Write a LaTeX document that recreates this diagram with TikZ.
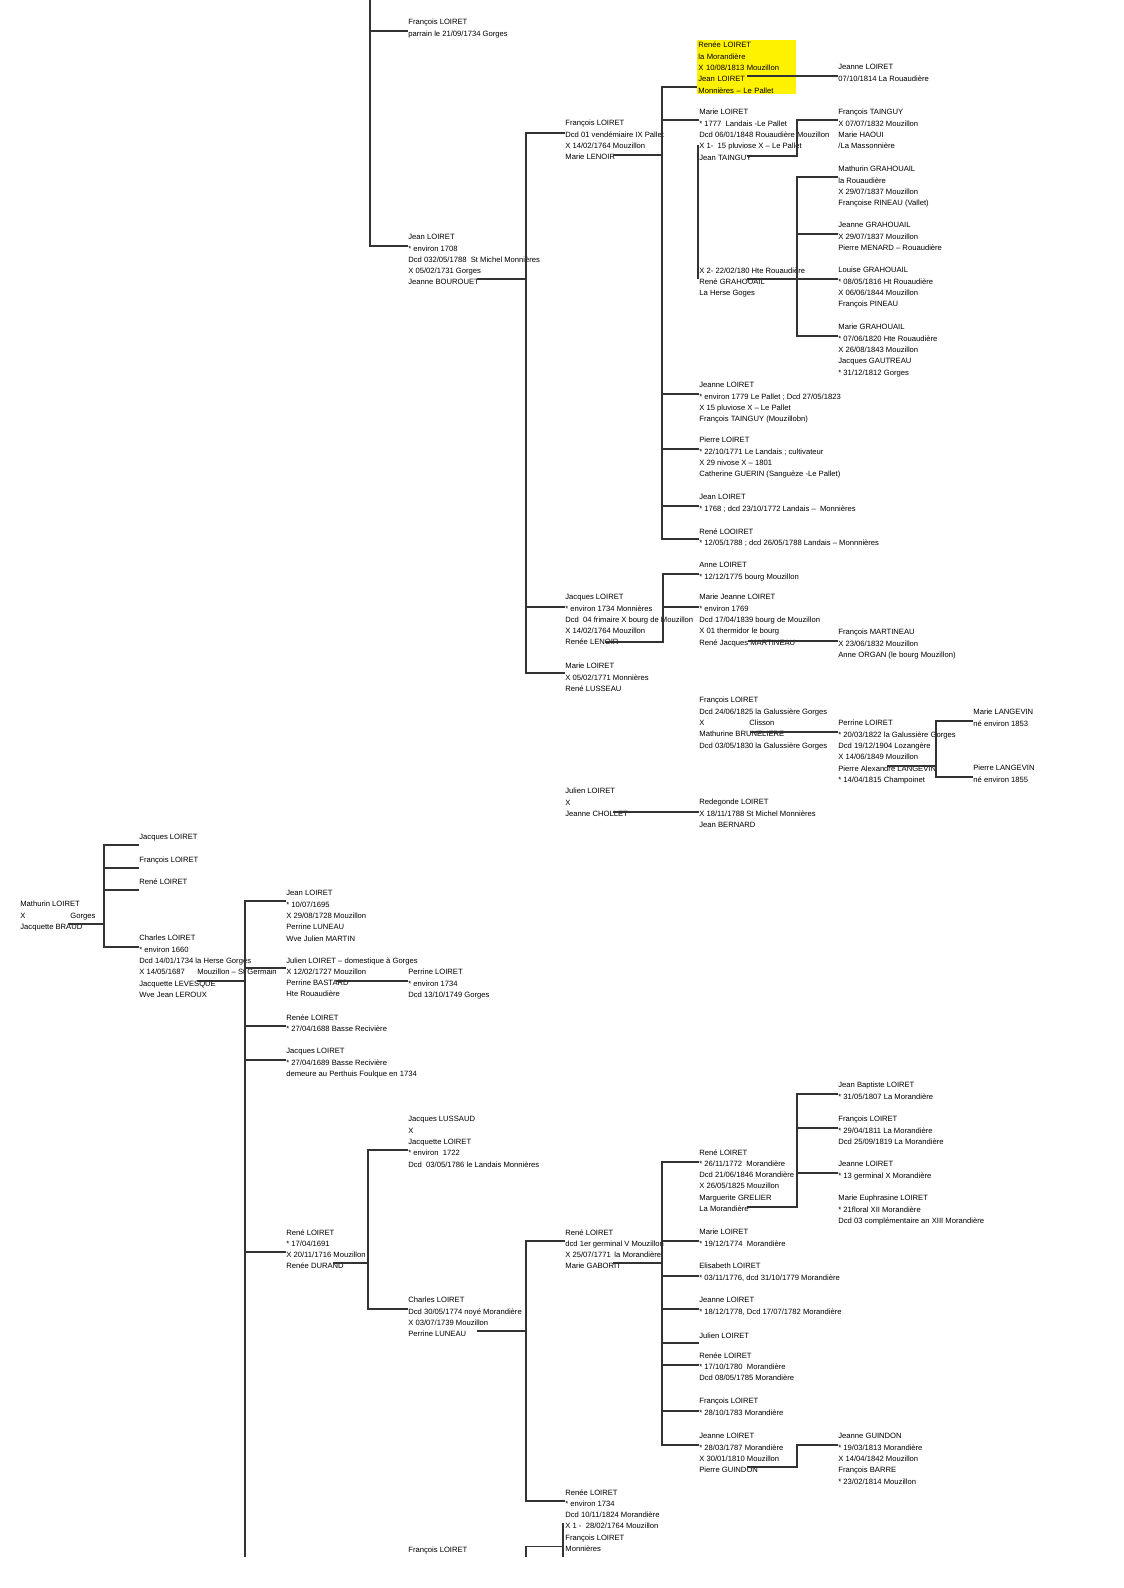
\documentclass[tikz,border=0pt]{standalone}
\usepackage{fontspec}
\setmainfont{Liberation Sans}
\tikzset{
  person/.style={anchor=north west, inner sep=0pt, align=left, font=\fontsize{4.05}{6}\selectfont, execute at begin node={\rule{0pt}{3.4pt}}},
  link/.style={draw=black!80, line width=0.55pt},
}
\begin{document}
\begin{tikzpicture}[x=0.53pt,y=-0.53pt]
\useasboundingbox (0,0) rectangle (1123,1588);
% upper branch
\node[person] (fl1) at (408,19) {François LOIRET\\parrain le 21/09/1734 Gorges};
\node[person] (jean1) at (408,234) {Jean LOIRET\\{*} environ 1708\\Dcd 032/05/1788 ~St Michel Monnières\\X 05/02/1731 Gorges\\Jeanne BOUROUET};
\node[person] (fl2) at (565,120) {François LOIRET\\Dcd 01 vendémiaire IX Pallet\\X 14/02/1764 Mouzillon\\Marie LENOIR};
\node[person] (jq2) at (565,594) {Jacques LOIRET\\{*} environ 1734 Monnières\\Dcd ~04 frimaire X bourg de Mouzillon\\X 14/02/1764 Mouzillon\\Renée LENOIR};
\node[person] (ml2) at (565,663) {Marie LOIRET\\X 05/02/1771 Monnières\\René LUSSEAU};
\node[person] (jul2) at (565,788) {Julien LOIRET\\X\\Jeanne CHOLLET};
\node[person, fill=yellow, inner xsep=0.53pt, inner ysep=0.53pt, text width=51.4pt] (renee3) at (697,40) {Renée LOIRET\\la Morandière\\X 10/08/1813 Mouzillon\\Jean LOIRET\\Monnières – Le Pallet};
\node[person] (ml3) at (699,109) {Marie LOIRET\\{*} 1777 ~Landais -Le Pallet\\Dcd 06/01/1848 Rouaudière Mouzillon\\X 1- ~15 pluviose X – Le Pallet\\Jean TAINGUY};
\node[person] (ml3b) at (699,267) {X 2- 22/02/180 Hte Rouaudière\\René GRAHOUAIL\\La Herse Goges};
\node[person] (jl3) at (699,382) {Jeanne LOIRET\\{*} environ 1779 Le Pallet ; Dcd 27/05/1823\\X 15 pluviose X – Le Pallet\\François TAINGUY (Mouzillobn)};
\node[person] (pl3) at (699,437) {Pierre LOIRET\\{*} 22/10/1771 Le Landais ; cultivateur\\X 29 nivose X – 1801\\Catherine GUERIN (Sanguèze -Le Pallet)};
\node[person] (jn3) at (699,494) {Jean LOIRET\\{*} 1768 ; dcd 23/10/1772 Landais – ~Monnières};
\node[person] (rl3) at (699,528) {René LOOIRET\\{*} 12/05/1788 ; dcd 26/05/1788 Landais – Monnnières};
\node[person] (al3) at (699,562) {Anne LOIRET\\{*} 12/12/1775 bourg Mouzillon};
\node[person] (mjl3) at (699,594) {Marie Jeanne LOIRET\\{*} environ 1769\\Dcd 17/04/1839 bourg de Mouzillon\\X 01 thermidor le bourg\\René Jacques MARTINEAU};
\node[person] (fl3b) at (699,697) {François LOIRET\\Dcd 24/06/1825 la Galussière Gorges\\\makebox[26.5pt][l]{X}Clisson\\Mathurine BRUNELIERE\\Dcd 03/05/1830 la Galussière Gorges};
\node[person] (red3) at (699,799) {Redegonde LOIRET\\X 18/11/1788 St Michel Monnières\\Jean BERNARD};
\node[person] (jl4) at (838,64) {Jeanne LOIRET\\07/10/1814 La Rouaudière};
\node[person] (ft4) at (838,109) {François TAINGUY\\X 07/07/1832 Mouzillon\\Marie HAOUI\\/La Massonnière};
\node[person] (mg4) at (838,166) {Mathurin GRAHOUAIL\\la Rouaudière\\X 29/07/1837 Mouzillon\\Françoise RINEAU (Vallet)};
\node[person] (jg4) at (838,222) {Jeanne GRAHOUAIL\\X 29/07/1837 Mouzillon\\Pierre MENARD – Rouaudière};
\node[person] (lg4) at (838,267) {Louise GRAHOUAIL\\{*} 08/05/1816 Ht Rouaudière\\X 06/06/1844 Mouzillon\\François PINEAU};
\node[person] (mag4) at (838,324) {Marie GRAHOUAIL\\{*} 07/06/1820 Hte Rouaudière\\X 26/08/1843 Mouzillon\\Jacques GAUTREAU\\{*} 31/12/1812 Gorges};
\node[person] (fm4) at (838,629) {François MARTINEAU\\X 23/06/1832 Mouzillon\\Anne ORGAN (le bourg Mouzillon)};
\node[person] (pl4) at (838,720) {Perrine LOIRET\\{*} 20/03/1822 la Galussière Gorges\\Dcd 19/12/1904 Lozangère\\X 14/06/1849 Mouzillon\\Pierre Alexandre LANGEVIN\\{*} 14/04/1815 Champoinet};
\node[person] (mlg5) at (973,709) {Marie LANGEVIN\\né environ 1853};
\node[person] (plg5) at (973,765) {Pierre LANGEVIN\\né environ 1855};
% lower branch
\node[person] (mat0) at (20,901) {Mathurin LOIRET\\\makebox[26.5pt][l]{X}Gorges\\Jacquette BRAUD};
\node[person] (jq1) at (139,833) {Jacques LOIRET};
\node[person] (fr1) at (139,856) {François LOIRET};
\node[person] (re1) at (139,878) {René LOIRET};
\node[person] (ch1) at (139,935) {Charles LOIRET\\{*} environ 1660\\Dcd 14/01/1734 la Herse Gorges\\\makebox[30.7pt][l]{X 14/05/1687}Mouzillon – St Germain\\Jacquette LEVESQUE\\Wve Jean LEROUX};
\node[person] (jn2) at (286,890) {Jean LOIRET\\{*} 10/07/1695\\X 29/08/1728 Mouzillon\\Perrine LUNEAU\\Wve Julien MARTIN};
\node[person] (ju2) at (286,957) {Julien LOIRET – domestique à Gorges\\X 12/02/1727 Mouzillon\\Perrine BASTARD\\Hte Rouaudière};
\node[person] (pe3) at (408,969) {Perrine LOIRET\\{*} environ 1734\\Dcd 13/10/1749 Gorges};
\node[person] (rn2) at (286,1014) {Renée LOIRET\\{*} 27/04/1688 Basse Recivière};
\node[person] (jq2b) at (286,1048) {Jacques LOIRET\\{*} 27/04/1689 Basse Recivière\\demeure au Perthuis Foulque en 1734};
\node[person] (rn2b) at (286,1229) {René LOIRET\\{*} 17/04/1691\\X 20/11/1716 Mouzillon\\Renée DURAND};
\node[person] (jl3c) at (408,1116) {Jacques LUSSAUD\\X\\Jacquette LOIRET\\{*} environ ~1722\\Dcd ~03/05/1786 le Landais Monnières};
\node[person] (ch3) at (408,1297) {Charles LOIRET\\Dcd 30/05/1774 noyé Morandière\\X 03/07/1739 Mouzillon\\Perrine LUNEAU};
\node[person] (rn3) at (565,1229) {René LOIRET\\dcd 1er germinal V Mouzillon\\\makebox[26pt][l]{X 25/07/1771}la Morandière\\Marie GABORIT};
\node[person] (rl3c) at (565,1489) {Renée LOIRET\\{*} environ 1734\\Dcd 10/11/1824 Morandière\\X 1 - ~28/02/1764 Mouzillon\\François LOIRET\\Monnières};
\node[person] (fl2c) at (408,1546) {François LOIRET};
\node[person] (rn4) at (699,1149) {René LOIRET\\{*} 26/11/1772 ~Morandière\\Dcd 21/06/1846 Morandière\\X 26/05/1825 Mouzillon\\Marguerite GRELIER\\La Morandière};
\node[person] (mr4) at (699,1229) {Marie LOIRET\\{*} 19/12/1774 ~Morandière};
\node[person] (el4) at (699,1263) {Elisabeth LOIRET\\{*} 03/11/1776, dcd 31/10/1779 Morandière};
\node[person] (je4) at (699,1297) {Jeanne LOIRET\\{*} 18/12/1778, Dcd 17/07/1782 Morandière};
\node[person] (ju4) at (699,1332) {Julien LOIRET};
\node[person] (re4) at (699,1352) {Renée LOIRET\\{*} 17/10/1780 ~Morandière\\Dcd 08/05/1785 Morandière};
\node[person] (fr4) at (699,1398) {François LOIRET\\{*} 28/10/1783 Morandière};
\node[person] (jn4) at (699,1433) {Jeanne LOIRET\\{*} 28/03/1787 Morandière\\X 30/01/1810 Mouzillon\\Pierre GUINDON};
\node[person] (jg5) at (838,1433) {Jeanne GUINDON\\{*} 19/03/1813 Morandière\\X 14/04/1842 Mouzillon\\François BARRE\\{*} 23/02/1814 Mouzillon};
\node[person] (jb5) at (838,1082) {Jean Baptiste LOIRET\\{*} 31/05/1807 La Morandière};
\node[person] (fr5) at (838,1116) {François LOIRET\\{*} 29/04/1811 La Morandière\\Dcd 25/09/1819 La Morandière};
\node[person] (jn5) at (838,1161) {Jeanne LOIRET\\{*} 13 germinal X Morandière};
\node[person] (me5) at (838,1195) {Marie Euphrasine LOIRET\\ {*} 21floral XII Morandière\\Dcd 03 complémentaire an XIII Morandière};
% connectors, upper branch
\coordinate (cut1) at (370,0);
\foreach \kid in {fl1,jean1}
  \draw[link] (cut1) |- ([shift={(0,12)}]\kid.north west);
\foreach \kid/\dx/\dy in {fl2/39/13,jq2/39/13,ml2/39/10}
  \draw[link] ([shift={(69,45)}]jean1.north west) -| ([shift={(-\dx,\dy)}]\kid.north west) -- ++(\dx,0);
\foreach \kid/\dx/\dy in {renee3/35/47,ml3/37/11,jl3/37/12,pl3/37/12,jn3/37/12,rl3/37/11}
  \draw[link] ([shift={(48,35)}]fl2.north west) -| ([shift={(-\dx,\dy)}]\kid.north west) -- ++(\dx,0);
\draw[link] ([shift={(50,36)}]renee3.north west) -- ([shift={(0,12)}]jl4.north west);
\draw[link] ([shift={(48,47)}]ml3.north west) -| ([shift={(-41,11)}]ft4.north west) -- ++(41,0);
\draw[link] ([shift={(-1,36)}]ml3.north west) -- ([shift={(-1,12)}]ml3b.north west);
\foreach \kid/\dy in {mg4/11,jg4/12,lg4/12,mag4/12}
  \draw[link] ([shift={(48,12)}]ml3b.north west) -| ([shift={(-41,\dy)}]\kid.north west) -- ++(41,0);
\foreach \kid/\dy in {al3/12,mjl3/13}
  \draw[link] ([shift={(40,48)}]jq2.north west) -| ([shift={(-36,\dy)}]\kid.north west) -- ++(36,0);
\draw[link] ([shift={(49,47)}]mjl3.north west) -- ([shift={(0,12)}]fm4.north west);
\draw[link] ([shift={(51,35)}]fl3b.north west) -- ([shift={(0,12)}]pl4.north west);
\foreach \kid in {mlg5,plg5}
  \draw[link] ([shift={(49,46)}]pl4.north west) -| ([shift={(-37,12)}]\kid.north west) -- ++(37,0);
\draw[link] ([shift={(48,24)}]jul2.north west) -- ([shift={(0,13)}]red3.north west);
% connectors, lower branch
\foreach \kid in {jq1,fr1,re1,ch1}
  \draw[link] ([shift={(48,23)}]mat0.north west) -| ([shift={(-35,12)}]\kid.north west) -- ++(35,0);
\coordinate (cut2) at (245,1557);
\draw[link] ([shift={(58,46)}]ch1.north west) -| (cut2);
\foreach \kid/\dy in {jn2/11,ju2/11,rn2/12,jq2b/12,rn2b/23}
  \draw[link] ([shift={(58,46)}]ch1.north west) -| ([shift={(-41,\dy)}]\kid.north west) -- ++(41,0);
\draw[link] ([shift={(50,24)}]ju2.north west) -- ([shift={(0,12)}]pe3.north west);
\foreach \kid/\dy in {jl3c/34,ch3/12}
  \draw[link] ([shift={(47,34)}]rn2b.north west) -| ([shift={(-40,\dy)}]\kid.north west) -- ++(40,0);
\foreach \kid in {rn3,rl3c}
  \draw[link] ([shift={(69,34)}]ch3.north west) -| ([shift={(-39,12)}]\kid.north west) -- ++(39,0);
\foreach \kid/\dy in {rn4/13,mr4/12,el4/13,je4/12,ju4/11,re4/13,fr4/13,jn4/12}
  \draw[link] ([shift={(48,34)}]rn3.north west) -| ([shift={(-37,\dy)}]\kid.north west) -- ++(37,0);
\foreach \kid in {jb5,fr5,jn5}
  \draw[link] ([shift={(48,58)}]rn4.north west) -| ([shift={(-41,12)}]\kid.north west) -- ++(41,0);
\draw[link] ([shift={(48,34)}]jn4.north west) -| ([shift={(-41,12)}]jg5.north west) -- ++(41,0);
\draw[link] ([shift={(-2,34)}]rl3c.north west) -- ([shift={(-2,68)}]rl3c.north west);
\coordinate (cut3) at (526,1557);
\draw[link] (cut3) |- ([shift={(-2,57)}]rl3c.north west);
\end{tikzpicture}
\end{document}
